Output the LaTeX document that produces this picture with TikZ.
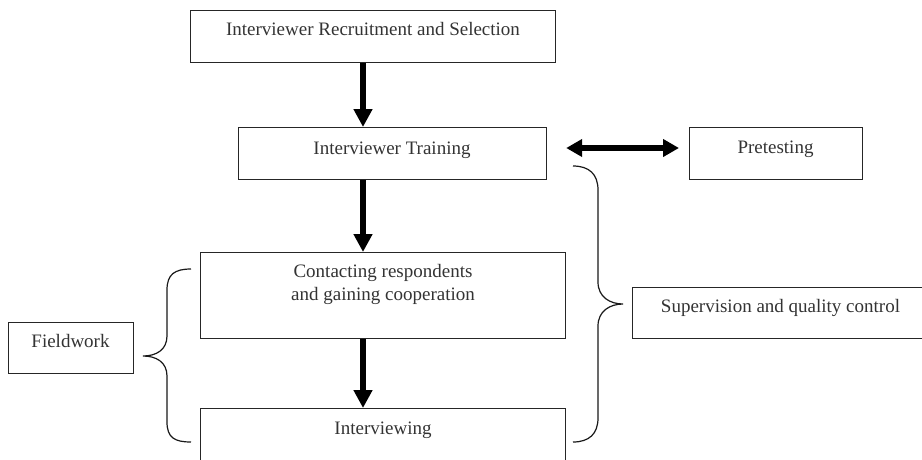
\documentclass[tikz,border=0pt]{standalone}
\usepackage{fontspec}
\setmainfont{Liberation Serif}
\usetikzlibrary{arrows.meta,calc}
\begin{document}
\begin{tikzpicture}[x=1pt,y=-1pt,
  box/.style={draw=black!85, line width=1.2pt, inner sep=0pt, anchor=north west},
  txt/.style={font=\fontsize{19}{23}\selectfont, text=black!80, align=center, anchor=base, inner sep=0pt},
  thickarrow/.style={line width=6pt, -{Triangle[width=18pt,length=18pt]}},
  dblarrow/.style={line width=5.5pt, {Triangle[width=17pt,length=16pt]}-{Triangle[width=17pt,length=16pt]}},
  brace/.style={draw=black!90, line width=1.2pt}]
\useasboundingbox (0,0) rectangle (922,459);
\clip (0,0) rectangle (922,459);
% boxes
\node[box, minimum width=365pt, minimum height=52pt] (b1) at (190,10) {};
\node[box, minimum width=308pt, minimum height=52pt] (b2) at (238,127) {};
\node[box, minimum width=365pt, minimum height=86pt] (b3) at (200,252) {};
\node[box, minimum width=365pt, minimum height=80pt] (b4) at (200,408) {};
\node[box, minimum width=173pt, minimum height=52pt] (pre) at (689,127) {};
\node[box, minimum width=300pt, minimum height=51pt] (sup) at (632,287) {};
\node[box, minimum width=125pt, minimum height=51pt] (fw) at (8,322) {};
% texts
\node[txt] (t1) at (373,35) {Interviewer Recruitment and Selection};
\node[txt] (t2) at (392,154) {Interviewer Training};
\node[txt] (t3) at (383,300) {Contacting respondents\\and gaining cooperation};
\node[txt] (t4) at (383,434) {Interviewing};
\node[txt] (tp) at (775.5,153) {Pretesting};
\node[txt] (ts) at (780.5,312) {Supervision and quality control};
\node[txt] (tf) at (70.5,347) {Fieldwork};
% arrows
\coordinate (ax) at (363,0);
\draw[thickarrow] (b1.south -| ax) -- (b2.north -| ax);
\draw[thickarrow] (b2.south -| ax) -- (b3.north -| ax);
\draw[thickarrow] (b3.south -| ax) -- (b4.north -| ax);
\coordinate (ay) at (0,148);
\draw[dblarrow] ([xshift=19pt]b2.east |- ay) -- ([xshift=-10pt]pre.west |- ay);
% left brace
\path[brace] (191,269) .. controls (175,269) and (167,274) .. (167,290)
  -- (167,336) .. controls (167,350) and (156,356) .. (143,356)
  .. controls (156,356) and (167,362) .. (167,376)
  -- (167,422) .. controls (167,438) and (175,442) .. (191,442);
% right brace
\path[brace] (573,166) .. controls (589,166) and (598,174) .. (598,190)
  -- (598,282) .. controls (598,297) and (610,304) .. (623,304)
  .. controls (610,304) and (598,311) .. (598,326)
  -- (598,418) .. controls (598,434) and (589,442) .. (573,442);
\end{tikzpicture}
\end{document}
